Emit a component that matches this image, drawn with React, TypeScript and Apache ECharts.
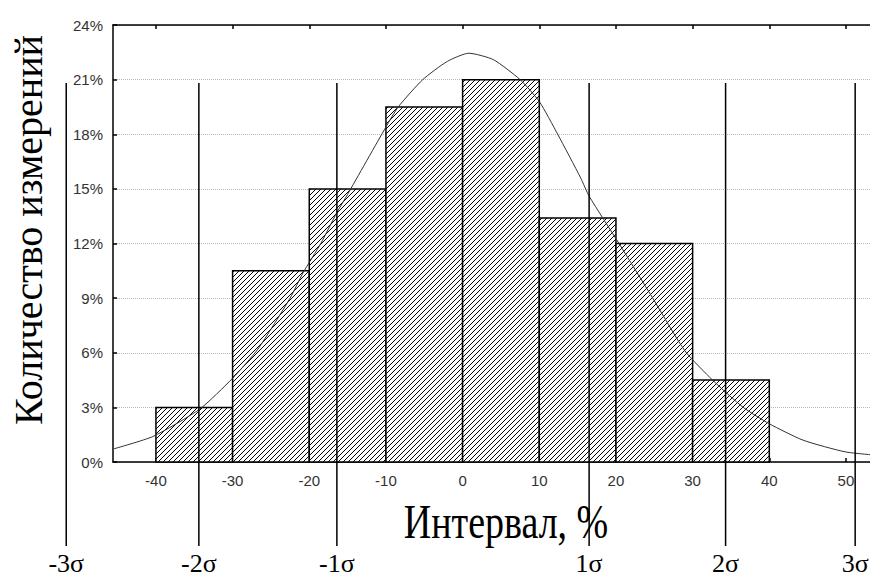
import React, { useEffect, useRef } from "react";
import * as echarts from "echarts";

// Histogram bins (interval edges, %) and share of measurements (%)
const binEdges = [-40, -30, -20, -10, 0, 10, 20, 30, 40];
const binShares = [3.0, 10.5, 15.0, 19.5, 21.0, 13.4, 12.0, 4.5];

// Fitted normal curve
const curveX = [-45.6, -40.4, -34.3, -30, -26.7, -22.5, -20.8, -18.5, -16.4, -15, -10, -8.4, -5.2, -2, 0.8, 4, 7.5, 10, 12.4, 15.4, 16.5, 20.4, 24.8, 29, 32.6, 36.6, 40, 44.4, 50, 56];
const curveY = [0.71, 1.4, 2.9, 4.6, 6.2, 9.0, 10.4, 12.0, 13.7, 14.7, 18.4, 19.5, 21.0, 22.0, 22.45, 22.1, 21.0, 19.8, 18.0, 15.6, 14.6, 12.0, 9.0, 6.1, 4.5, 3.0, 2.1, 1.2, 0.55, 0.3];

// Axis ticks
const xTickValues = [-40, -30, -20, -10, 0, 10, 20, 30, 40, 50];
const xMin = -45.6;
const xMax = 56;
const yMin = 0;
const yMax = 24;
const yStep = 3;

// Sigma markers (in interval units)
const sigmaPositions = [-51.7, -34.4, -16.4, 16.5, 34.3, 51.2];
const sigmaLabels = ["-3σ", "-2σ", "-1σ", "1σ", "2σ", "3σ"];

const xTitle = "Интервал, %";
const yTitle = "Количество измерений";

const SERIF = "'Liberation Serif', 'Times New Roman', serif";
const SANS = "'Liberation Sans', Arial, sans-serif";

export default function App() {
  const ref = useRef<HTMLDivElement>(null);

  useEffect(() => {
    if (!ref.current) return;
    const chart = echarts.init(ref.current, undefined, { renderer: "svg" });

    const barData = binShares.map((v, i) => [binEdges[i], binEdges[i + 1], v]);
    const curveData = curveX.map((x, i) => [x, curveY[i]]);

    const pxPerUnit = 7.667;
    const gridWidth = (xMax - xMin) * pxPerUnit;

    const axisLine = { show: true, onZero: false, lineStyle: { color: "#000", width: 1.5 } };
    const axisTick = { show: true, inside: true, length: 4, lineStyle: { color: "#000", width: 1.5 } };
    const labelStyle = { color: "#333", fontFamily: SANS, fontSize: 15 };

    chart.setOption({
      animation: false,
      backgroundColor: "#fff",
      grid: {
        left: 113,
        top: 25,
        height: 437,
        width: gridWidth,
        containLabel: false,
        outerBoundsMode: "none",
      },
      xAxis: [
        {
          type: "value",
          min: xMin,
          max: xMax,
          position: "bottom",
          axisLine,
          axisTick: { ...axisTick, customValues: xTickValues },
          axisLabel: { show: true, customValues: xTickValues, margin: 11, ...labelStyle },
          splitLine: { show: false },
        },
        {
          type: "value",
          min: xMin,
          max: xMax,
          position: "top",
          axisLine,
          axisTick: { ...axisTick, customValues: xTickValues },
          axisLabel: { show: false },
          splitLine: { show: false },
        },
      ],
      yAxis: {
        type: "value",
        min: yMin,
        max: yMax,
        interval: yStep,
        axisLine,
        axisTick,
        axisLabel: { formatter: "{value}%", margin: 10, ...labelStyle },
        splitLine: { show: true, lineStyle: { color: "#b8b8b8", type: "dotted", width: 1 } },
      },
      series: [
        {
          type: "custom",
          xAxisIndex: 0,
          encode: { x: [0, 1], y: 2 },
          data: barData,
          z: 3,
          renderItem: (params: any, api: any) => {
            const x0 = api.value(0);
            const x1 = api.value(1);
            const v = api.value(2);
            const tl = api.coord([x0, v]);
            const br = api.coord([x1, 0]);
            const left = tl[0];
            const top = tl[1];
            const right = br[0];
            const bottom = br[1];
            const children: any[] = [
              { type: "rect", shape: { x: left, y: top, width: right - left, height: bottom - top }, style: { fill: "#fff" } },
            ];
            const step = 5;
            const cMin = left + top;
            const cMax = right + bottom;
            for (let c = Math.ceil(cMin / step) * step; c <= cMax; c += step) {
              const xs = Math.max(left, c - bottom);
              const xe = Math.min(right, c - top);
              if (xe > xs + 0.3) {
                children.push({
                  type: "line",
                  shape: { x1: xs, y1: c - xs, x2: xe, y2: c - xe },
                  style: { stroke: "#000", lineWidth: 1 },
                });
              }
            }
            children.push({
              type: "rect",
              shape: { x: left, y: top, width: right - left, height: bottom - top },
              style: { fill: "none", stroke: "#000", lineWidth: 1.5 },
            });
            return { type: "group", children };
          },
        },
        {
          type: "line",
          xAxisIndex: 0,
          data: curveData,
          showSymbol: false,
          smooth: 0.2,
          z: 5,
          lineStyle: { color: "#333", width: 1 },
        },
      ],
    });

    const graphics: any[] = [];
    sigmaPositions.forEach((v, i) => {
      const px = chart.convertToPixel({ xAxisIndex: 0 }, v) as number;
      graphics.push({
        type: "line",
        shape: { x1: px, y1: 83, x2: px, y2: 546 },
        style: { stroke: "#000", lineWidth: 1.5 },
        z: 10,
      });
      graphics.push({
        type: "text",
        x: px,
        y: 563,
        style: {
          text: sigmaLabels[i],
          font: `26px ${SERIF}`,
          fill: "#000",
          textAlign: "center",
          textVerticalAlign: "middle",
        },
        z: 10,
      });
    });
    graphics.push({
      type: "text",
      x: 506,
      y: 522,
      scaleY: 1.3,
      style: {
        text: xTitle,
        font: `38px ${SERIF}`,
        fill: "#000",
        textAlign: "center",
        textVerticalAlign: "middle",
      },
      z: 10,
    });
    graphics.push({
      type: "text",
      x: 28,
      y: 230,
      rotation: Math.PI / 2,
      style: {
        text: yTitle,
        font: `40px ${SERIF}`,
        fill: "#000",
        textAlign: "center",
        textVerticalAlign: "middle",
      },
      z: 10,
    });
    chart.setOption({ graphic: graphics });

    return () => chart.dispose();
  }, []);

  return <div ref={ref} style={{ position: "fixed", left: 0, top: 0, width: 870, height: 577 }} />;
}
